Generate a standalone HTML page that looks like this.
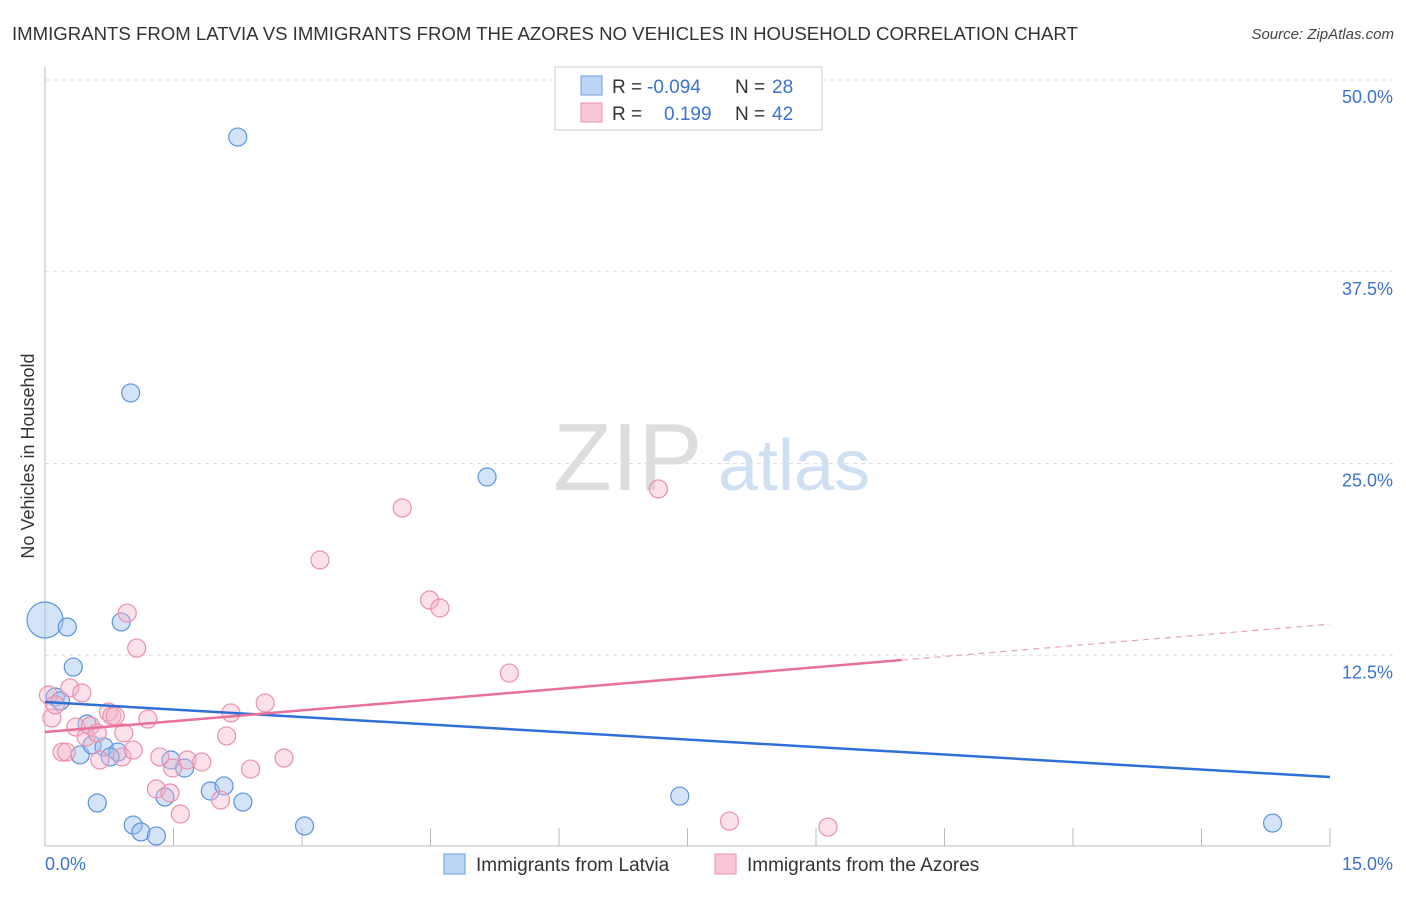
<!DOCTYPE html>
<html><head><meta charset="utf-8"><style>
body{margin:0;background:#fff;font-family:"Liberation Sans",sans-serif}
svg text{font-family:"Liberation Sans",sans-serif}
</style></head><body>
<svg id="chart" width="1406" height="892" xmlns="http://www.w3.org/2000/svg">
<text x="12" y="40" font-size="18.6" fill="#333">IMMIGRANTS FROM LATVIA VS IMMIGRANTS FROM THE AZORES NO VEHICLES IN HOUSEHOLD CORRELATION CHART</text>
<text x="1394" y="39" font-size="15" fill="#444" text-anchor="end" font-style="italic">Source: ZipAtlas.com</text>
<g>
<text x="553" y="490" font-size="96" fill="#ddd" font-family="Liberation Serif,serif">ZIP</text>
<text x="718" y="490" font-size="72" fill="#cfe0f5">atlas</text>
</g>
<g id="grid"></g>
<g id="marks"></g>
<text transform="translate(34,456) rotate(-90)" font-size="18" fill="#333" text-anchor="middle">No Vehicles in Household</text>
<g>
<rect x="555" y="67" width="267" height="63" fill="#fff" stroke="#ccc"/>
<rect x="581" y="76" width="21" height="19" fill="#bcd5f5" stroke="#6a9ee3"/>
<rect x="581" y="103" width="21" height="19" fill="#f9c6d5" stroke="#ec90ac"/>
<text x="612" y="93" font-size="19" fill="#333">R = <tspan fill="#3b73d0" x="647">-0.094</tspan><tspan x="735">N = </tspan><tspan fill="#3b73d0" x="772">28</tspan></text>
<text x="612" y="120" font-size="19" fill="#333">R = <tspan fill="#3b73d0" x="664">0.199</tspan><tspan x="735">N = </tspan><tspan fill="#3b73d0" x="772">42</tspan></text>
</g>
<g>
<rect x="444" y="854" width="21" height="20" fill="#bcd5f5" stroke="#6a9ee3"/>
<text x="476" y="871" font-size="19" fill="#333">Immigrants from Latvia</text>
<rect x="715" y="854" width="21" height="20" fill="#f9c6d5" stroke="#ec90ac"/>
<text x="747" y="871" font-size="19" fill="#333">Immigrants from the Azores</text>
</g>
</svg>
<script>
const yTicks=[12.5,25,37.5,50];
const yTickLabels=["12.5%","25.0%","37.5%","50.0%"];
const xTickLabels=["0.0%","15.0%"];
const latviaX=[2.25,1.00,5.16,0,0.26,0.89,0.33,0.12,0.18,0.49,0.41,0.55,0.69,0.85,0.76,0.61,1.03,1.12,1.30,1.40,1.47,1.63,1.93,2.09,2.31,3.03,7.41,14.33];
const latviaY=[46.28,29.60,24.12,14.80,14.34,14.67,11.73,9.78,9.52,8.02,6.00,6.65,6.52,6.19,5.87,2.87,1.43,0.98,0.72,3.26,5.67,5.15,3.65,3.98,2.93,1.37,3.32,1.56];
const latviaSize=[1,1,1,2,1,1,1,1,1,1,1,1,1,1,1,1,1,1,1,1,1,1,1,1,1,1,1,1];
const azoresX=[0.04,0.08,0.12,0.29,0.43,0.20,0.25,0.36,0.53,0.48,0.61,0.64,0.74,0.78,0.82,0.90,0.92,0.96,1.07,1.03,1.20,1.34,1.30,1.46,1.49,1.58,1.66,1.83,2.05,2.12,2.17,2.40,2.57,2.79,3.21,4.17,4.49,4.61,5.42,7.16,7.99,9.14];
const azoresY=[9.91,8.41,9.26,10.37,10.04,6.19,6.19,7.82,7.89,7.17,7.43,5.67,8.80,8.54,8.54,5.87,7.43,15.25,12.97,6.32,8.34,5.87,3.78,3.52,5.15,2.15,5.67,5.54,3.06,7.24,8.74,5.08,9.39,5.80,18.71,22.10,16.10,15.58,11.34,23.34,1.69,1.30];
const latviaTrend=[9.45,4.56];
const azoresTrend=[7.50,14.53];
const azoresSolidEnd=10;
const NS="http://www.w3.org/2000/svg";
const X0=45,X1=1330,Y0=847,PY=15.34;
const xs=v=>X0+(v/15)*(X1-X0);
const ys=v=>Y0-v*PY;
function mk(t,a,p){const e=document.createElementNS(NS,t);for(const k in a)e.setAttribute(k,a[k]);p.appendChild(e);return e;}
const grid=document.getElementById('grid'),marks=document.getElementById('marks'),svg=document.getElementById('chart');
yTicks.forEach((t,i)=>{
 const l=mk('line',{x1:X0,x2:1394,y1:ys(t),y2:ys(t),stroke:'#ddd','stroke-dasharray':'4,4'},grid);
 
 
 const tx=mk('text',{x:1393,y:ys(t)+23,'font-size':18,fill:'#3b73d0','text-anchor':'end'},grid);
 tx.textContent=yTickLabels[i];
 
 
});
const ax=mk('line',{x1:X0,x2:X0,y1:67,y2:846,stroke:'#bbb'},grid);


const bx=mk('line',{x1:X0,x2:X1,y1:846,y2:846,stroke:'#bbb'},grid);


for(let i=1;i<=10;i++){const t=mk('line',{x1:xs(i*1.5),x2:xs(i*1.5),y1:828,y2:846,stroke:'#bbb'},grid);
 
 }
[[0,'start',45],[15,'end',1393]].forEach((d,i)=>{const t=mk('text',{x:d[2],y:870,'font-size':18,fill:'#3b73d0','text-anchor':d[1]},grid);t.textContent=xTickLabels[i];
 
 });
latviaX.forEach((x,i)=>{const c=mk('circle',{cx:xs(x),cy:ys(latviaY[i]),r:9*latviaSize[i],fill:'rgba(160,196,240,0.45)',stroke:'#5b93e0','stroke-width':1.2},marks);
 
 });
azoresX.forEach((x,i)=>{const c=mk('circle',{cx:xs(x),cy:ys(azoresY[i]),r:9,fill:'rgba(246,180,200,0.4)',stroke:'#ec90ac','stroke-width':1.2},marks);
 
 });
const lt=mk('line',{x1:xs(0),y1:ys(latviaTrend[0]),x2:xs(15),y2:ys(latviaTrend[1]),stroke:'#2f6fd6','stroke-width':2.5},marks);


const az=v=>azoresTrend[0]+(azoresTrend[1]-azoresTrend[0])*v/15;
const at=mk('line',{x1:xs(0),y1:ys(az(0)),x2:xs(azoresSolidEnd),y2:ys(az(azoresSolidEnd)),stroke:'#e8709a','stroke-width':2.5},marks);


const ad=mk('line',{x1:xs(azoresSolidEnd),y1:ys(az(azoresSolidEnd)),x2:xs(15),y2:ys(az(15)),stroke:'#e8a0b8','stroke-width':1.2,'stroke-dasharray':'6,5'},marks);


</script>
</body></html>
